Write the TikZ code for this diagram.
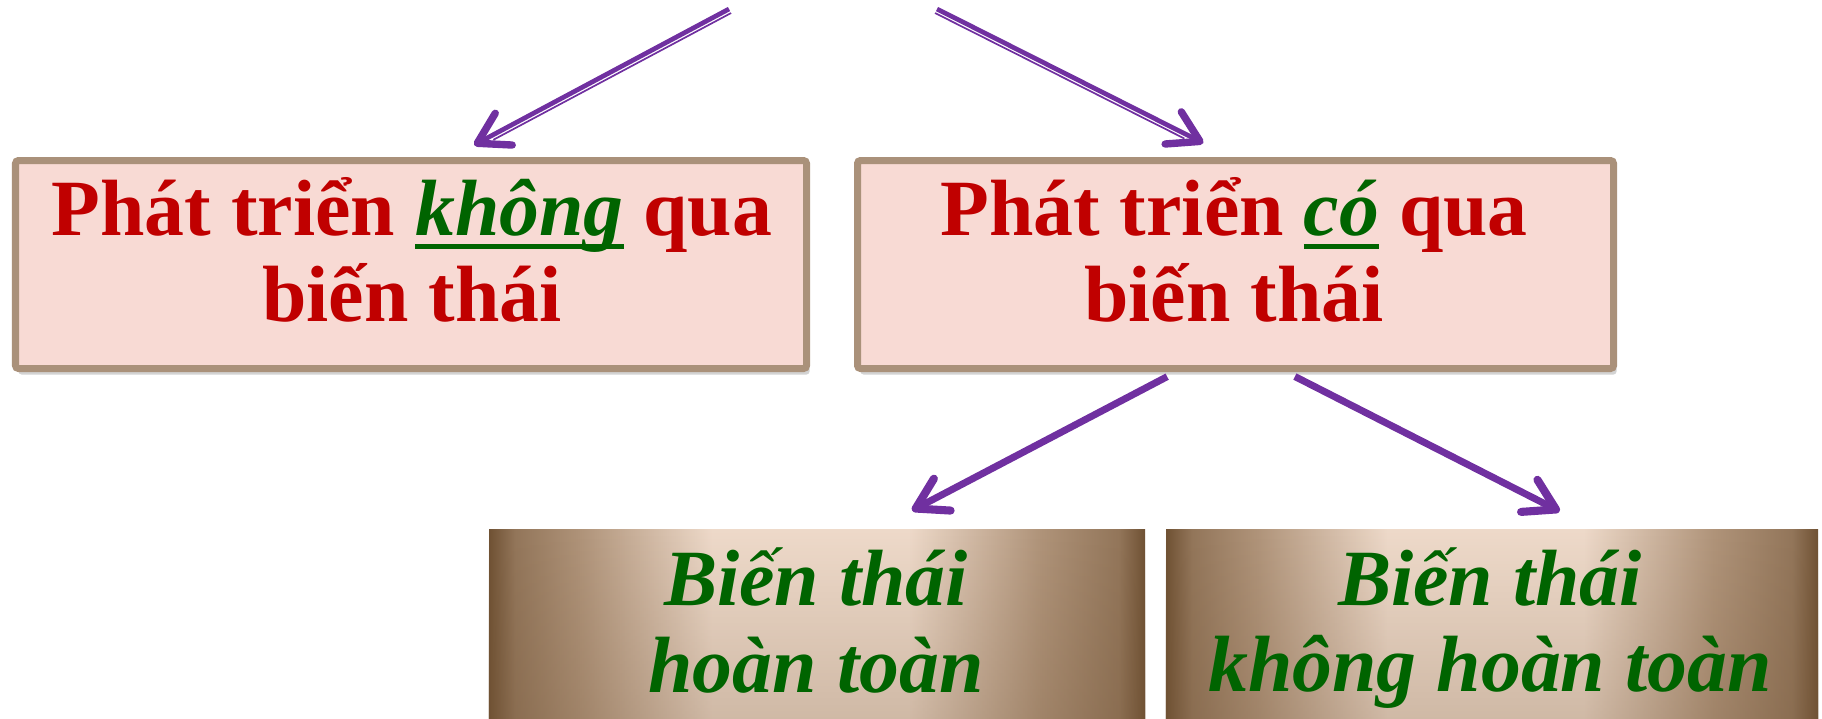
\documentclass[tikz,border=0pt]{standalone}
\usepackage{fontspec}
\setmainfont{Liberation Serif}
\usepackage{xcolor}
\usetikzlibrary{positioning,shadows,arrows.meta,fadings}

\definecolor{boxred}{RGB}{192,0,0}
\definecolor{boxgreen}{RGB}{0,100,0}
\definecolor{boxpink}{RGB}{248,218,212}
\definecolor{boxedge}{RGB}{170,145,122}
\definecolor{arrowpurple}{RGB}{112,48,160}
\definecolor{brownD}{RGB}{112,82,52}
\definecolor{brownM}{RGB}{176,148,122}
\definecolor{brownL}{RGB}{238,218,202}

\pgfdeclarehorizontalshading{plaque}{100bp}{color(0bp)=(brownD); color(25bp)=(brownD); color(27bp)=(brownM!55!brownD); color(32bp)=(brownM); color(42bp)=(brownL); color(57bp)=(brownL); color(67bp)=(brownM); color(73bp)=(brownM!55!brownD); color(75bp)=(brownD); color(100bp)=(brownD)}

\newcommand{\thickuline}[1]{\leavevmode\setbox0=\hbox{#1}\rlap{\rule[-4pt]{\wd0}{1.4pt}}\box0}
\lineskiplimit=-50pt

\begin{document}
\begin{tikzpicture}
\tikzstyle{every node}+=[inner sep=0pt]
\tikzstyle{statebox}=[draw=boxedge, line width=0.07cm, fill=boxpink, rounded corners=0.03cm, minimum width=7.91cm, minimum height=2.08cm, drop shadow={shadow xshift=0.03cm, shadow yshift=-0.06cm, opacity=0.35}]
\tikzstyle{statetext}=[align=center, text=boxred, font=\bfseries\fontsize{22.7}{24.5}\selectfont]
\tikzstyle{plaquebox}=[shading=plaque, minimum width=6.56cm, minimum height=1.97cm]
\tikzstyle{plaquetext}=[align=center, text=boxgreen, font=\bfseries\itshape\fontsize{22.7}{24.7}\selectfont]
\tikzstyle{arr}=[arrowpurple, line width=0.047cm, -{Straight Barb[round, length=0.3cm, width=0.36cm, line width=2.1pt]}]
\tikzstyle{arrthin}=[arrowpurple, line width=0.017cm]
\tikzstyle{arrbig}=[arrowpurple, line width=0.07cm, -{Straight Barb[round, length=0.3cm, width=0.36cm, line width=2.3pt]}]
\path[use as bounding box, clip] (0,0) rectangle (18.22,-7.18);

% the two ways of development
\node[statebox] (pA) at (4.11,-2.645) {};
\node[statebox, minimum width=7.56cm] (pB) at (12.355,-2.645) {};
\node[statetext] (lA) at (4.12,-2.495) {Phát triển \textcolor{boxgreen}{\itshape\thickuline{không}} qua\\biến thái};
\node[statetext] (lB) at (12.34,-2.495) {Phát triển \textcolor{boxgreen}{\itshape\thickuline{có}} qua\\biến thái};

% the two kinds of metamorphosis
\node[plaquebox] (qA) at (8.17,-6.275) {};
\node[plaquebox, minimum width=6.52cm] (qB) at (14.92,-6.275) {};
\fill[brownD, path fading=north, fill opacity=0.25] (qA.north west) rectangle (qA.south east);
\fill[brownD, path fading=north, fill opacity=0.25] (qB.north west) rectangle (qB.south east);
\node[plaquetext] (mA) at (8.16,-6.205) {Biến thái\\hoàn toàn};
\node[plaquetext] (mB) at (14.90,-6.28) {Biến thái\\không hoàn toàn};

% arrows from the top
\coordinate (sA) at (7.29,-0.09);
\coordinate (sB) at (9.37,-0.09);
\draw[arr, shorten >=0.255cm] (sA) -- ([xshift=0.405cm]pA.north);
\draw[arrthin, shorten >=0.45cm, transform canvas={shift={(0.021,-0.04)}}] (sA) -- ([xshift=0.405cm]pA.north);
\draw[arr, shorten >=0.31cm] (sB) -- ([xshift=-0.045cm]pB.north);
\draw[arrthin, shorten >=0.5cm, transform canvas={shift={(-0.02,-0.04)}}] (sB) -- ([xshift=-0.045cm]pB.north);

% arrows to the lower boxes
\draw[arrbig, shorten <=0.1cm, shorten >=0.385cm] ([xshift=-0.595cm]pB.south) -- ([xshift=0.61cm]qA.north);
\draw[arrbig, shorten <=0.1cm, shorten >=0.375cm] ([xshift=0.505cm]pB.south) -- ([xshift=1.01cm]qB.north);
\end{tikzpicture}
\end{document}
